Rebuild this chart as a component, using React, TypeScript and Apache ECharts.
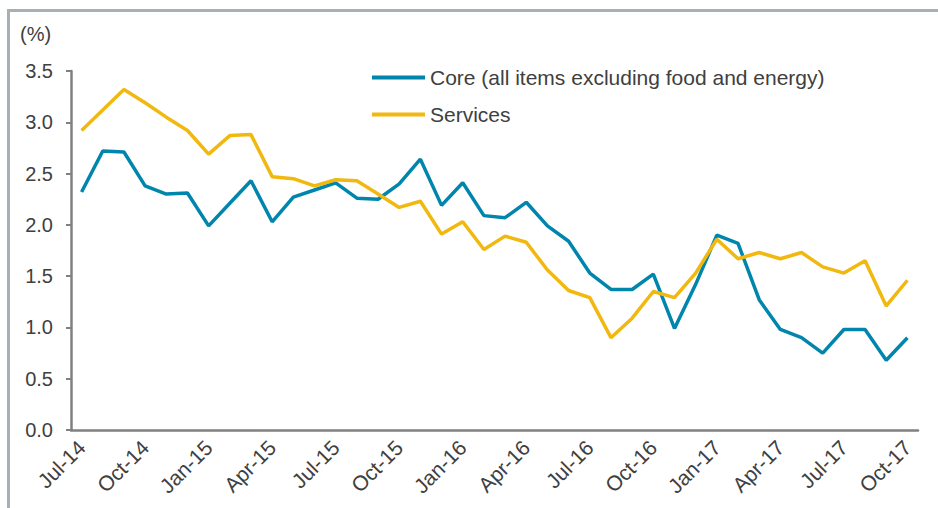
import React, { useEffect, useRef } from "react";
import * as echarts from "echarts";

const months = [
  "Jul-14","Aug-14","Sep-14","Oct-14","Nov-14","Dec-14",
  "Jan-15","Feb-15","Mar-15","Apr-15","May-15","Jun-15","Jul-15","Aug-15","Sep-15","Oct-15","Nov-15","Dec-15",
  "Jan-16","Feb-16","Mar-16","Apr-16","May-16","Jun-16","Jul-16","Aug-16","Sep-16","Oct-16","Nov-16","Dec-16",
  "Jan-17","Feb-17","Mar-17","Apr-17","May-17","Jun-17","Jul-17","Aug-17","Sep-17","Oct-17",
];

const coreValues = [
  2.32, 2.72, 2.71, 2.38, 2.30, 2.31, 1.99, 2.21, 2.43, 2.03,
  2.27, 2.34, 2.41, 2.26, 2.25, 2.40, 2.64, 2.19, 2.41, 2.09,
  2.07, 2.22, 1.99, 1.84, 1.53, 1.37, 1.37, 1.52, 0.99, 1.42,
  1.90, 1.82, 1.27, 0.98, 0.90, 0.75, 0.98, 0.98, 0.68, 0.90,
];

const servicesValues = [
  2.92, 3.12, 3.32, 3.19, 3.05, 2.92, 2.69, 2.87, 2.88, 2.47,
  2.45, 2.38, 2.44, 2.43, 2.30, 2.17, 2.23, 1.91, 2.03, 1.76,
  1.89, 1.83, 1.56, 1.36, 1.29, 0.90, 1.09, 1.35, 1.29, 1.53,
  1.86, 1.67, 1.73, 1.67, 1.73, 1.59, 1.53, 1.65, 1.21, 1.46,
];

const seriesNames = ["Core (all items excluding food and energy)", "Services"];
const unitLabel = "(%)";

const FONT = "'Liberation Sans', Arial, sans-serif";
const TEXT = "#404040";
const AXIS = "#808080";

export default function App() {
  const ref = useRef<HTMLDivElement>(null);
  useEffect(() => {
    if (!ref.current) return;
    const chart = echarts.init(ref.current, null, { renderer: "svg" });
    chart.setOption({
      animation: false,
      backgroundColor: "#ffffff",
      grid: { left: 71, right: 20, top: 71, bottom: 78, containLabel: false },
      legend: {
        orient: "vertical",
        left: 367,
        top: 62,
        itemWidth: 53,
        itemHeight: 4,
        itemGap: 16,
        icon: "rect",
        textStyle: { fontFamily: FONT, fontSize: 21, color: TEXT },
        data: seriesNames,
      },
      xAxis: {
        type: "category",
        data: months,
        boundaryGap: true,
        axisLine: { lineStyle: { color: AXIS, width: 2.5 } },
        axisTick: { interval: 2, length: 5, alignWithLabel: false, lineStyle: { color: AXIS, width: 2 } },
        axisLabel: {
          interval: 2,
          rotate: 45,
          margin: 14,
          fontFamily: FONT,
          fontSize: 21,
          color: TEXT,
        },
        splitLine: { show: false },
      },
      yAxis: {
        type: "value",
        min: 0,
        max: 3.5,
        interval: 0.5,
        axisLine: { show: true, lineStyle: { color: AXIS, width: 2.5 } },
        axisTick: { show: true, length: 5, lineStyle: { color: AXIS, width: 2 } },
        axisLabel: {
          formatter: (v: number) => v.toFixed(1),
          margin: 18,
          fontFamily: FONT,
          fontSize: 20,
          color: TEXT,
        },
        splitLine: { show: false },
      },
      series: [
        {
          name: seriesNames[0],
          type: "line",
          data: coreValues,
          symbol: "none",
          lineStyle: { color: "#0086AD", width: 3.5 },
          itemStyle: { color: "#0086AD" },
        },
        {
          name: seriesNames[1],
          type: "line",
          data: servicesValues,
          symbol: "none",
          lineStyle: { color: "#F1B80F", width: 3.5 },
          itemStyle: { color: "#F1B80F" },
        },
      ],
      graphic: [
        {
          type: "line",
          shape: { x1: 7, y1: 10.5, x2: 938, y2: 10.5 },
          style: { stroke: "#A9B0B3", lineWidth: 3 },
        },
        {
          type: "line",
          shape: { x1: 8.5, y1: 9, x2: 8.5, y2: 508 },
          style: { stroke: "#A9B0B3", lineWidth: 3 },
        },
        {
          type: "text",
          left: 20,
          top: 24,
          style: { text: unitLabel, fontFamily: FONT, fontSize: 20, fill: TEXT },
        },
      ],
    });
    return () => chart.dispose();
  }, []);
  return (
    <div
      ref={ref}
      style={{ position: "fixed", left: 0, top: 0, width: 938, height: 508 }}
    />
  );
}
